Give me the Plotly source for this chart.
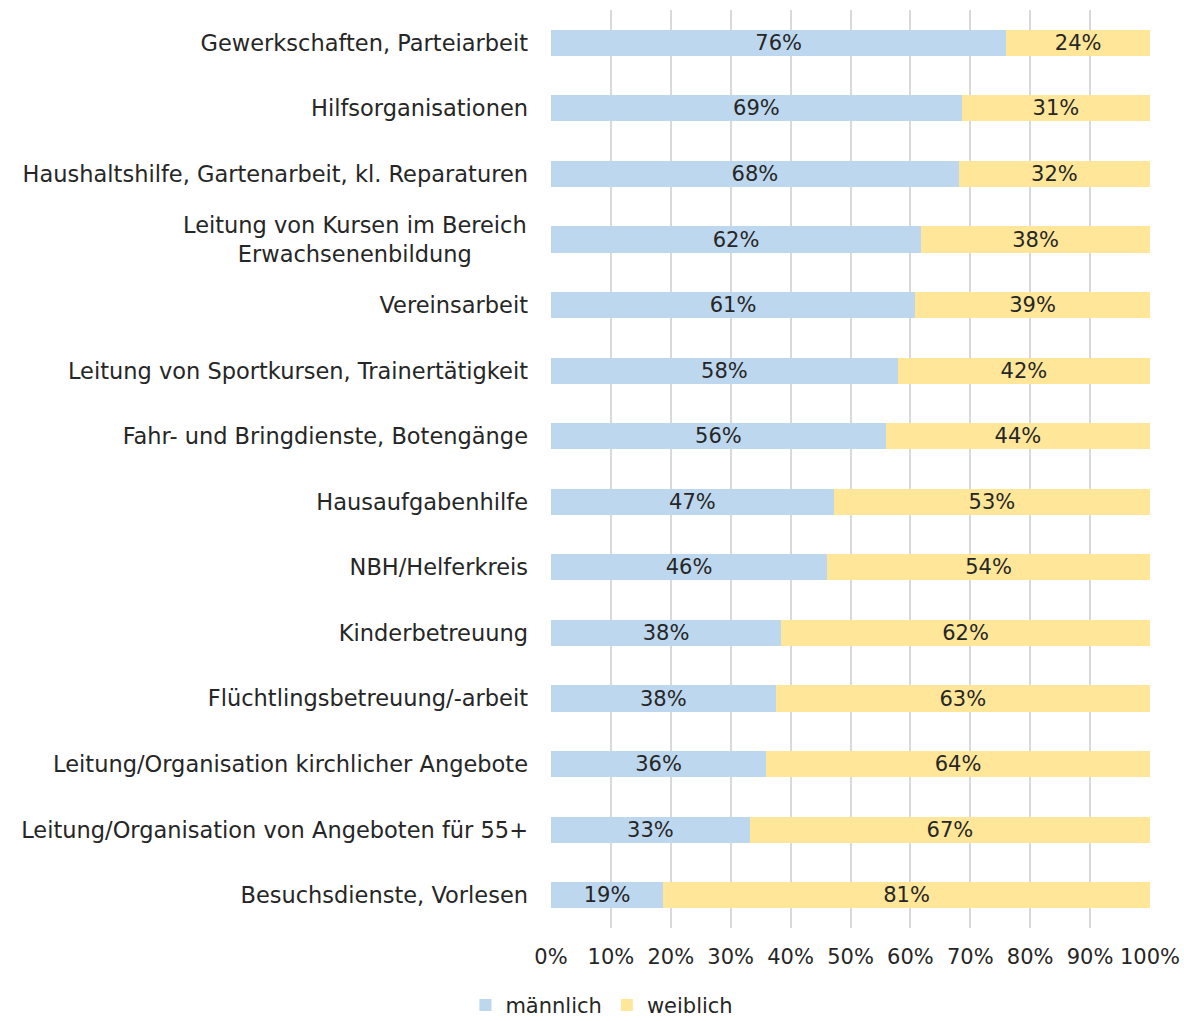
import plotly.graph_objects as go

# Engagement areas (top to bottom) and gender shares in percent
categories = [
    "Gewerkschaften, Parteiarbeit",
    "Hilfsorganisationen",
    "Haushaltshilfe, Gartenarbeit, kl. Reparaturen",
    "Leitung von Kursen im Bereich<br>Erwachsenenbildung",
    "Vereinsarbeit",
    "Leitung von Sportkursen, Trainertätigkeit",
    "Fahr- und Bringdienste, Botengänge",
    "Hausaufgabenhilfe",
    "NBH/Helferkreis",
    "Kinderbetreuung",
    "Flüchtlingsbetreuung/-arbeit",
    "Leitung/Organisation kirchlicher Angebote",
    "Leitung/Organisation von Angeboten für 55+",
    "Besuchsdienste, Vorlesen",
]
maennlich = [76.0, 68.6, 68.1, 61.8, 60.8, 57.9, 55.9, 47.2, 46.1, 38.4, 37.5, 35.9, 33.2, 18.7]
weiblich = [24.0, 31.4, 31.9, 38.2, 39.2, 42.1, 44.1, 52.8, 53.9, 61.6, 62.5, 64.1, 66.8, 81.3]
tick_vals = [0, 10, 20, 30, 40, 50, 60, 70, 80, 90, 100]
tick_text = ["0%", "10%", "20%", "30%", "40%", "50%", "60%", "70%", "80%", "90%", "100%"]

FONT = "DejaVu Sans"
SIZE = 21
CAT_SIZE = 22.5
TEXT_COLOR = "#262626"


def pct_label(v):
    # round half up, as spreadsheet percentage formats do
    return f"{int(v + 0.5)}%"


fig = go.Figure()
for name, vals, color in [("männlich", maennlich, "#BDD7EE"), ("weiblich", weiblich, "#FFE699")]:
    fig.add_trace(go.Bar(
        name=name,
        y=categories,
        x=vals,
        orientation="h",
        marker=dict(color=color, line=dict(width=0)),
        text=[pct_label(v) for v in vals],
        textposition="inside",
        insidetextanchor="middle",
        textangle=0,
        constraintext="none",
        textfont=dict(family=FONT, size=SIZE, color=TEXT_COLOR),
        width=0.4,
        hoverinfo="skip",
    ))

# multi-line category labels are drawn centred, single-line ones via the axis
tick_labels = ["" if "<br>" in c else c for c in categories]
for c in categories:
    if "<br>" in c:
        fig.add_annotation(
            xref="paper", yref="y", x=0, y=c,
            xanchor="right", yanchor="middle", xshift=-22,
            text=c, align="center", showarrow=False,
            font=dict(family=FONT, size=CAT_SIZE, color=TEXT_COLOR),
        )

fig.update_layout(
    barmode="stack",
    width=1184,
    height=1021,
    margin=dict(l=551, r=34, t=10, b=93, autoexpand=False),
    paper_bgcolor="white",
    plot_bgcolor="white",
    font=dict(family=FONT, size=SIZE, color=TEXT_COLOR),
    xaxis=dict(
        range=[0, 100],
        tickvals=tick_vals,
        ticktext=tick_text,
        showgrid=True,
        gridcolor="#D9D9D9",
        gridwidth=1.5,
        zeroline=False,
        showline=False,
        ticks="",
        ticklabelstandoff=14,
        tickfont=dict(family=FONT, size=SIZE, color=TEXT_COLOR),
    ),
    yaxis=dict(
        categoryorder="array",
        categoryarray=categories,
        tickvals=categories,
        ticktext=tick_labels,
        autorange="reversed",
        showgrid=False,
        ticks="",
        ticklabelstandoff=22,
        tickfont=dict(family=FONT, size=CAT_SIZE, color=TEXT_COLOR),
    ),
    legend=dict(
        orientation="h",
        traceorder="normal",
        x=0.085,
        xanchor="center",
        y=-0.062,
        yanchor="top",
        font=dict(family=FONT, size=SIZE, color=TEXT_COLOR),
        itemwidth=30,
    ),
)

fig.write_html("out.html")
